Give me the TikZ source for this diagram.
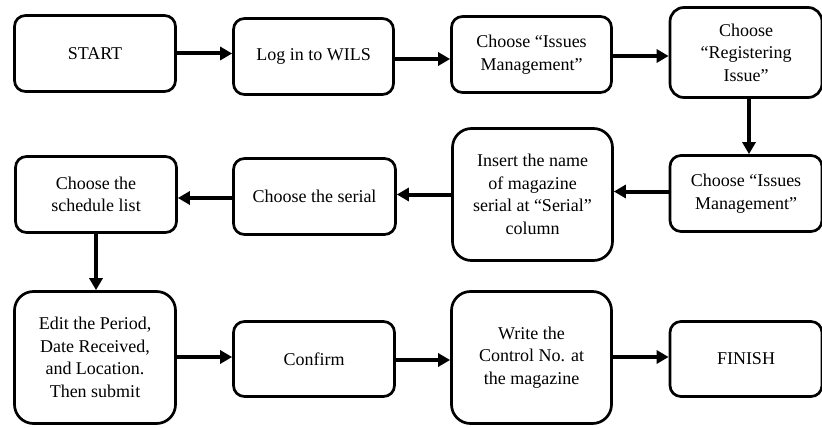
\documentclass[tikz,border=0pt]{standalone}
\usepackage{fontspec}
\setmainfont{Liberation Serif}
\usetikzlibrary{arrows.meta}
\begin{document}
\begin{tikzpicture}[x=1pt,y=-1pt,
  stepbox/.style={draw=black, line width=2.7pt, fill=white, align=center,
    font=\fontsize{18}{22.5}\selectfont, inner sep=0pt},
  flow/.style={line width=4pt, -{Triangle[length=12pt,width=13pt]}}]
\useasboundingbox (0,0) rectangle (822,428);

% first row
\node[stepbox, rounded corners=11pt, minimum width=161pt, minimum height=76pt]
  (start) at (95,53.5) {START};
\node[stepbox, rounded corners=11pt, minimum width=160pt, minimum height=76pt]
  (login) at (313.5,56.5) {Log in to WILS};
\node[stepbox, rounded corners=11pt, minimum width=160pt, minimum height=76pt]
  (issuesA) at (531.5,54.5) {Choose “Issues\\Management”};
\node[stepbox, rounded corners=14pt, minimum width=152pt, minimum height=90pt]
  (register) at (746,52.5) {Choose\\“Registering\\Issue”};

% second row
\node[stepbox, rounded corners=11pt, minimum width=152pt, minimum height=76pt]
  (issuesB) at (746,193.5) {Choose “Issues\\Management”};
\node[stepbox, rounded corners=19pt, minimum width=160pt, minimum height=132pt]
  (insert) at (532.5,194.5) {Insert the name\\of magazine\\serial at “Serial”\\column};
\node[stepbox, rounded corners=11pt, minimum width=162pt, minimum height=76pt]
  (serial) at (314.5,196.5) {Choose the serial};
\node[stepbox, rounded corners=11pt, minimum width=161pt, minimum height=76pt]
  (schedule) at (96,194.5) {Choose the\\schedule list};

% third row
\node[stepbox, rounded corners=19pt, minimum width=161pt, minimum height=132pt]
  (edit) at (95,357.5) {Edit the Period,\\Date Received,\\and Location.\\Then submit};
\node[stepbox, rounded corners=11pt, minimum width=161pt, minimum height=75pt]
  (confirm) at (314,359) {Confirm};
\node[stepbox, rounded corners=19pt, minimum width=160pt, minimum height=132pt]
  (write) at (531.5,357.5) {Write the\\Control No. at\\the magazine};
\node[stepbox, rounded corners=11pt, minimum width=152pt, minimum height=75pt]
  (finish) at (746,359) {FINISH};

% connectors
\draw[flow] (start.east) -- (start.east -| login.west);
\draw[flow] ([yshift=-2.5pt]login.east) -- ([yshift=-2.5pt]login.east -| issuesA.west);
\draw[flow] ([yshift=-1.5pt]issuesA.east) -- ([yshift=-1.5pt]issuesA.east -| register.west);
\draw[flow] ([xshift=3pt]register.south) -- ([xshift=3pt]register.south |- issuesB.north);
\draw[flow] ([yshift=2pt]issuesB.west) -- ([yshift=2pt]issuesB.west -| insert.east);
\draw[flow] (insert.west) -- (insert.west -| serial.east);
\draw[flow] ([yshift=-1.5pt]serial.west) -- ([yshift=-1.5pt]serial.west -| schedule.east);
\draw[flow] (schedule.south) -- (schedule.south |- edit.north);
\draw[flow] ([yshift=0.5pt]edit.east) -- ([yshift=0.5pt]edit.east -| confirm.west);
\draw[flow] ([yshift=-1pt]confirm.east) -- ([yshift=-1pt]confirm.east -| write.west);
\draw[flow] ([yshift=0.5pt]write.east) -- ([yshift=0.5pt]write.east -| finish.west);
\end{tikzpicture}
\end{document}
